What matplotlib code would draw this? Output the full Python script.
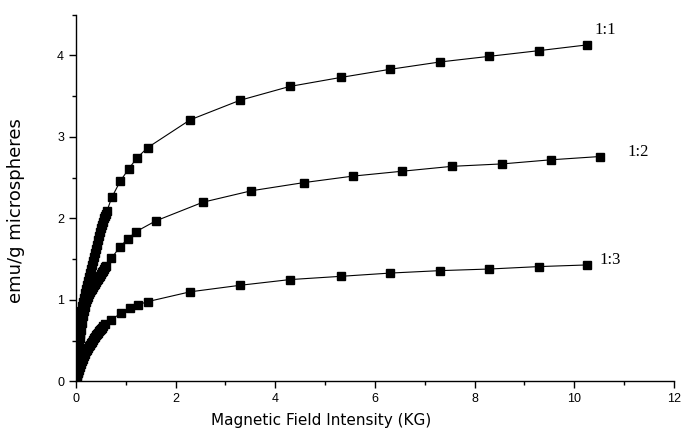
#!/usr/bin/env python3
"""Magnetization curves of the microspheres for three ratios."""
import matplotlib
matplotlib.use("Agg")
import matplotlib.pyplot as plt
from matplotlib.ticker import MultipleLocator

# 1:1 ratio
x_11 = [0.0, 0.01, 0.02, 0.03, 0.04, 0.05, 0.06, 0.07, 0.08, 0.09, 0.10,
        0.12, 0.14, 0.16, 0.18, 0.20, 0.22, 0.24, 0.26, 0.28, 0.30, 0.32,
        0.34, 0.36, 0.38, 0.40, 0.42, 0.44, 0.46, 0.48, 0.50, 0.52, 0.54,
        0.56, 0.58, 0.60, 0.62,
        0.72, 0.89, 1.06, 1.22, 1.44, 2.29, 3.29, 4.29, 5.31, 6.30, 7.30,
        8.30, 9.30, 10.26]
y_11 = [0.0, 0.12, 0.25, 0.36, 0.45, 0.54, 0.62, 0.69, 0.76, 0.82, 0.87,
        0.93, 0.98, 1.03, 1.08, 1.13, 1.18, 1.23, 1.28, 1.33, 1.38, 1.43,
        1.48, 1.53, 1.58, 1.63, 1.68, 1.73, 1.78, 1.83, 1.88, 1.92, 1.96,
        2.00, 2.03, 2.06, 2.09,
        2.26, 2.46, 2.61, 2.74, 2.87, 3.21, 3.45, 3.62, 3.73, 3.83, 3.92,
        3.99, 4.06, 4.13]

# 1:2 ratio
x_12 = [0.0, 0.01, 0.02, 0.03, 0.04, 0.05, 0.06, 0.07, 0.08, 0.09, 0.10,
        0.12, 0.14, 0.16, 0.18, 0.20, 0.22, 0.24, 0.26, 0.28, 0.30, 0.32,
        0.34, 0.36, 0.38, 0.40, 0.42, 0.44, 0.46, 0.48, 0.50, 0.52, 0.54,
        0.56, 0.58, 0.60,
        0.71, 0.88, 1.04, 1.21, 1.60, 2.55, 3.52, 4.57, 5.56, 6.55, 7.55,
        8.56, 9.53, 10.51]
y_12 = [0.0, 0.07, 0.14, 0.21, 0.28, 0.35, 0.41, 0.47, 0.53, 0.58, 0.63,
        0.72, 0.80, 0.86, 0.92, 0.97, 1.01, 1.04, 1.07, 1.10, 1.12, 1.14,
        1.16, 1.18, 1.20, 1.22, 1.24, 1.26, 1.28, 1.30, 1.32, 1.34, 1.36,
        1.38, 1.40, 1.42,
        1.51, 1.65, 1.75, 1.84, 1.97, 2.20, 2.34, 2.44, 2.52, 2.58, 2.64,
        2.67, 2.72, 2.76]

# 1:3 ratio
x_13 = [0.0, 0.01, 0.02, 0.03, 0.04, 0.05, 0.06, 0.08, 0.10, 0.12, 0.14,
        0.16, 0.18, 0.20, 0.22, 0.24, 0.26, 0.28, 0.30, 0.32, 0.34, 0.36,
        0.38, 0.40, 0.42, 0.44, 0.46, 0.48, 0.50, 0.52, 0.55, 0.58,
        0.71, 0.91, 1.08, 1.24, 1.44, 2.29, 3.29, 4.29, 5.31, 6.30, 7.30,
        8.30, 9.30, 10.26]
y_13 = [0.0, 0.03, 0.06, 0.08, 0.10, 0.12, 0.14, 0.18, 0.22, 0.25, 0.28,
        0.31, 0.34, 0.37, 0.39, 0.41, 0.43, 0.45, 0.47, 0.49, 0.51, 0.53,
        0.55, 0.57, 0.58, 0.60, 0.62, 0.63, 0.65, 0.66, 0.68, 0.70,
        0.76, 0.84, 0.90, 0.94, 0.98, 1.10, 1.18, 1.25, 1.29, 1.33, 1.36,
        1.38, 1.41, 1.43]

labels = ["1:1", "1:2", "1:3"]
label_pos = [(10.62, 4.31), (11.29, 2.82), (10.72, 1.49)]

fig = plt.figure(figsize=(6.82, 4.40), dpi=100)
ax = fig.add_axes([0.1114, 0.133, 0.8766, 0.8335])

for xs, ys in [(x_11, y_11), (x_12, y_12), (x_13, y_13)]:
    ax.plot(xs, ys, color="black", lw=0.8, marker="s", ms=5.5,
            mfc="black", mec="black")

for lab, (lx, ly) in zip(labels, label_pos):
    ax.text(lx, ly, lab, fontsize=12, family="Liberation Serif",
            ha="center", va="center")

ax.set_xlim(0, 12)
ax.set_ylim(0, 4.5)
ax.xaxis.set_major_locator(MultipleLocator(2))
ax.xaxis.set_minor_locator(MultipleLocator(1))
ax.set_yticks([0, 1, 2, 3, 4])
ax.yaxis.set_minor_locator(MultipleLocator(0.5))

for s in ["top", "right"]:
    ax.spines[s].set_visible(False)
for s in ["left", "bottom"]:
    ax.spines[s].set_linewidth(1.0)

ax.tick_params(which="major", direction="out", length=5, width=1,
               labelsize=9)
ax.tick_params(which="minor", direction="out", length=3, width=1)
for t in ax.get_xticklabels() + ax.get_yticklabels():
    t.set_family("Liberation Sans")

ax.set_xlabel("Magnetic Field Intensity (KG)", fontsize=11,
              family="DejaVu Sans")
ax.set_ylabel("emu/g microspheres", fontsize=13, family="DejaVu Sans")
ax.xaxis.set_label_coords(0.41, -0.086)
ax.yaxis.set_label_coords(-0.085, 0.465)

fig.savefig("out.png", dpi=100)
